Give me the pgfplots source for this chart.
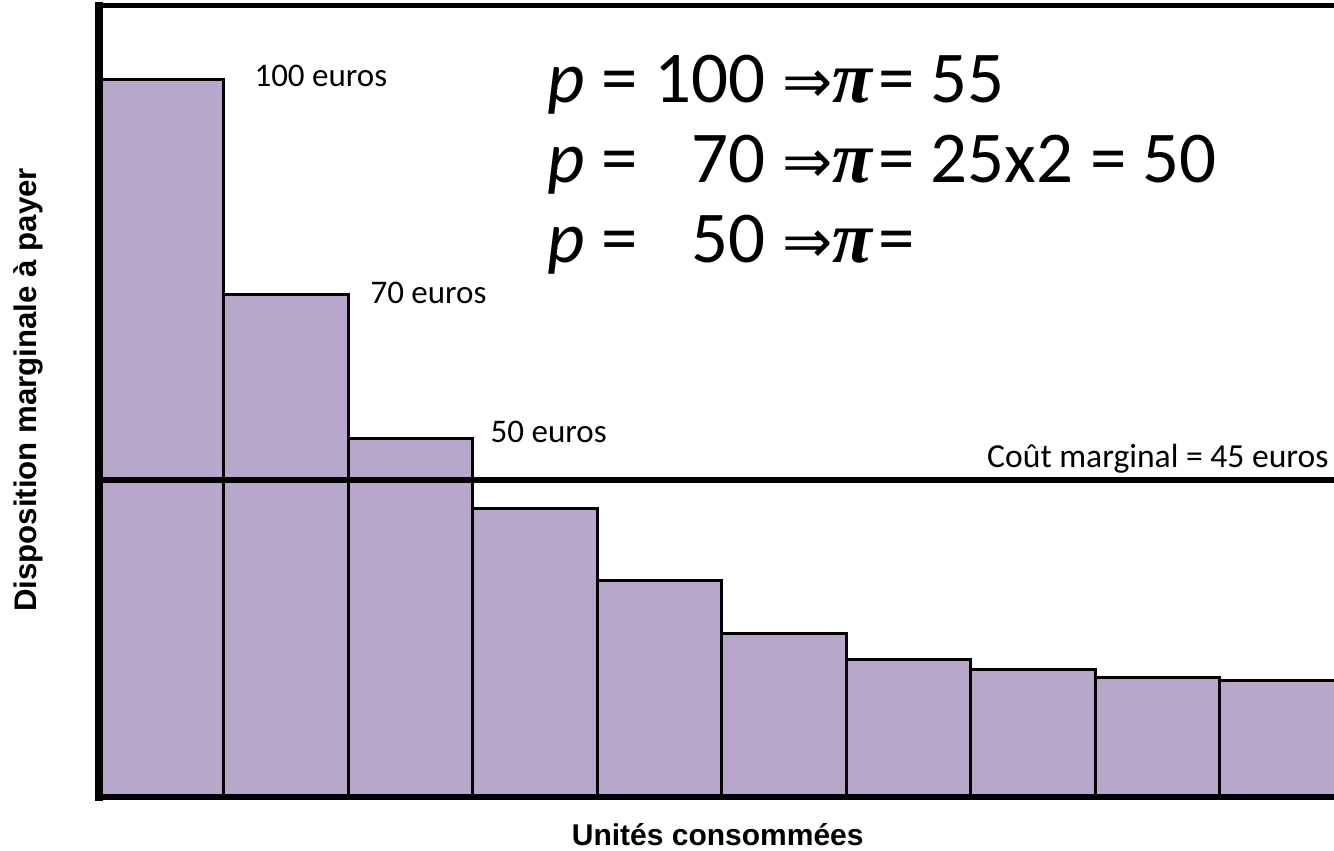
\documentclass[border=0pt]{standalone}
\usepackage{fontspec}
\usepackage{pgfplots}
\pgfplotsset{compat=1.18}
\newfontfamily\carl{Carlito}
\newfontfamily\lsans{Liberation Sans}
\newfontfamily\dvs{DejaVu Sans}
\newfontfamily\lserif{Liberation Serif}
\newcommand{\arr}{{\dvs\fontsize{30}{36}\selectfont ⇒}}
\newcommand{\bpi}{{\lserif\bfseries\itshape π}\kern0.08em}
\definecolor{barfill}{RGB}{183,167,203}

\begin{document}
\begin{tikzpicture}
\useasboundingbox (0,0) rectangle (667pt,425.5pt);
\begin{axis}[
  at={(49.5pt,27pt)}, anchor=south west,
  scale only axis, width=622.5pt, height=395.5pt,
  xmin=0, xmax=10, ymin=0, ymax=110.2,
  axis line style={draw=none},
  xtick=\empty, ytick=\empty,
  clip=false,
  xlabel={Unités consommées},
  ylabel={Disposition marginale à payer},
  label style={font=\lsans\bfseries\fontsize{15}{18}\selectfont},
  xlabel style={at={(axis description cs:0.497,-0.047)}, anchor=center},
  ylabel style={at={(axis description cs:-0.057,0.5145)}, anchor=center, font=\lsans\bfseries\fontsize{15.6}{18}\selectfont},
]
\addplot[ybar interval, fill=barfill, draw=black, line width=1.5pt]
  coordinates {(0,100) (1,70) (2,50) (3,40.2) (4,30.2) (5,22.8) (6,19.2) (7,17.7) (8,16.6) (9,16.2) (10,16.2)};
\addplot[black, line width=3pt] coordinates {(0,44.15) (10,44.15)};
\draw[line width=4pt, line cap=rect] (rel axis cs:0,0) -- (rel axis cs:0,1);
\draw[line width=3pt, line cap=rect] (rel axis cs:0,0) -- (rel axis cs:1,0);
\draw[line width=2.5pt, line cap=rect] (rel axis cs:0,1) -- (rel axis cs:1,1);

\begin{scope}[every node/.style={anchor=base west, inner sep=0pt, font=\carl\fontsize{16.5}{20}\selectfont}]
\node at (axis cs:1.246,99.0) {100 euros};
\node at (axis cs:2.178,68.8) {70 euros};
\node at (axis cs:3.143,49.4) {50 euros};
\node[anchor=base east, font=\carl\fontsize{16.8}{20}\selectfont] at (axis cs:9.879,45.96) {Coût marginal = 45 euros};
\end{scope}

\begin{scope}[every node/.style={anchor=base west, inner sep=0pt, font=\carl\fontsize{36.5}{40}\selectfont}]
\node at (axis cs:3.601,96.8) {\textit{p} = 100 \arr\bpi= 55};
\node at (axis cs:3.601,85.65) {\textit{p} = \phantom{1}70 \arr\bpi= 25x2 = 50};
\node at (axis cs:3.601,74.5) {\textit{p} = \phantom{1}50 \arr\bpi=};
\end{scope}
\end{axis}
\end{tikzpicture}
\end{document}
